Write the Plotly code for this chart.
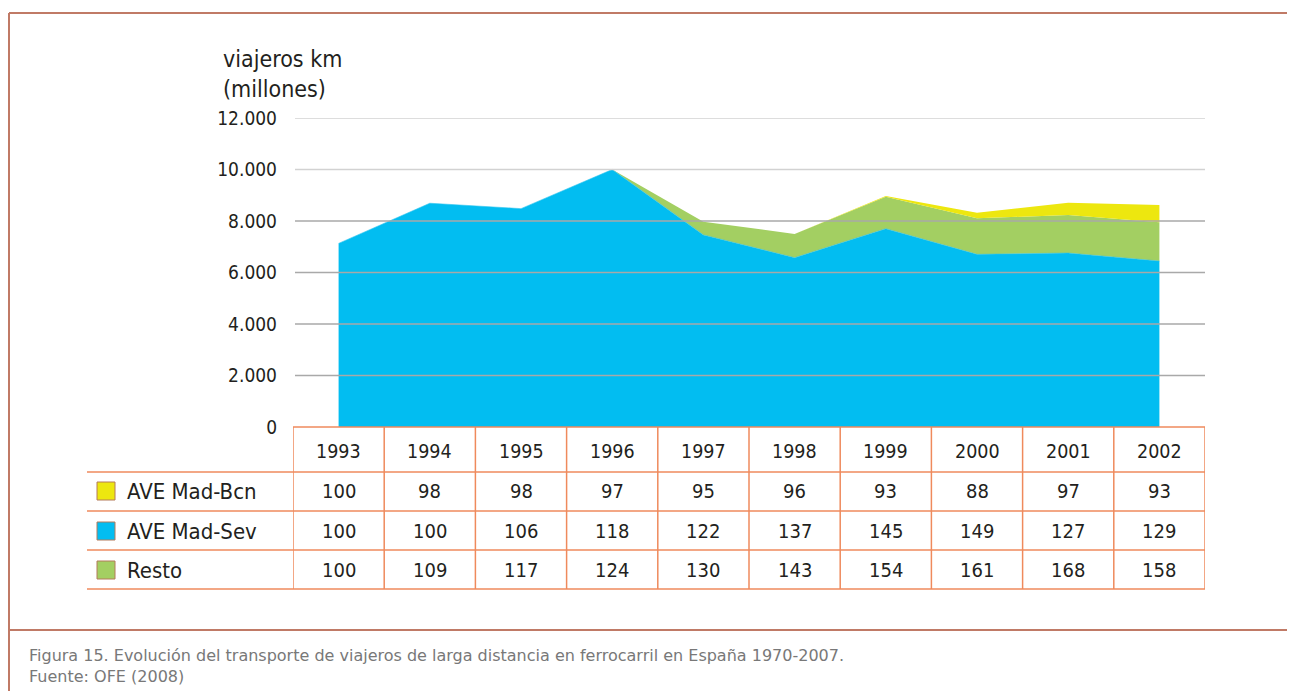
import plotly.graph_objects as go

# ---------------- data ----------------
years = ["1993", "1994", "1995", "1996", "1997", "1998", "1999", "2000", "2001", "2002"]
# stacked area layers (viajeros km, millones)
area_blue = [7130, 8690, 8480, 10000, 7460, 6575, 7700, 6705, 6755, 6445]
area_green = [0, 0, 0, 0, 513, 920, 1244, 1398, 1476, 1503]
area_yellow = [0, 0, 0, 0, 0, 0, 25, 218, 478, 673]

# table (index values)
series_names = ["AVE Mad-Bcn", "AVE Mad-Sev", "Resto"]
idx_bcn = [100, 98, 98, 97, 95, 96, 93, 88, 97, 93]
idx_sev = [100, 100, 106, 118, 122, 137, 145, 149, 127, 129]
idx_resto = [100, 109, 117, 124, 130, 143, 154, 161, 168, 158]

y_tickvals = [0, 2000, 4000, 6000, 8000, 10000, 12000]
y_ticktext = ["0", "2.000", "4.000", "6.000", "8.000", "10.000", "12.000"]

# ---------------- styling ----------------
OFF = 8                      # page body margin
W, H = 1295 - 2 * OFF, 699 - 2 * OFF
BLUE = "#02bdf1"
GREEN = "#a3cf62"
YELLOW = "#ede70f"
TXT = "#231f20"
ORANGE = "#ef8a5c"
FRAME = "#c07a66"
FONT = "Liberation Sans Narrow, DejaVu Sans Condensed, Roboto Condensed, Noto Sans Condensed, Roboto, sans-serif"
CAPFONT = "DejaVu Sans, sans-serif"


def px(x):
    return (x - OFF) / W


def py(y):
    return 1 - (y - OFF) / H


x_idx = list(range(len(years)))

fig = go.Figure()
fig.add_trace(go.Scatter(x=x_idx, y=area_blue, stackgroup="s", mode="lines",
                         line=dict(width=0.6, color="#2cc3ee"), fillcolor=BLUE,
                         name=series_names[1], hoverinfo="skip"))
fig.add_trace(go.Scatter(x=x_idx, y=area_green, stackgroup="s", mode="lines",
                         line=dict(width=0, color=GREEN), fillcolor=GREEN,
                         name=series_names[2], hoverinfo="skip"))
fig.add_trace(go.Scatter(x=x_idx, y=area_yellow, stackgroup="s", mode="lines",
                         line=dict(width=0, color=YELLOW), fillcolor=YELLOW,
                         name=series_names[0], hoverinfo="skip"))

shapes = []
annotations = []

# gridlines above the areas
for v in y_tickvals[1:]:
    col = "#d2d2d2" if v >= 10000 else "#a9a9a9"
    shapes.append(dict(type="line", xref="paper", yref="y", x0=px(295), x1=px(1205),
                       y0=v, y1=v, line=dict(color=col, width=1.5), layer="above"))

# frame lines
shapes.append(dict(type="line", xref="paper", yref="paper", x0=px(9), x1=1, y0=py(13), y1=py(13),
                   line=dict(color=FRAME, width=2)))
shapes.append(dict(type="line", xref="paper", yref="paper", x0=px(9), x1=px(9), y0=py(13), y1=0,
                   line=dict(color=FRAME, width=2)))
shapes.append(dict(type="line", xref="paper", yref="paper", x0=px(9), x1=1, y0=py(630), y1=py(630),
                   line=dict(color=FRAME, width=2)))

# table grid
t_top, row_lines = 427, [472, 511, 550, 589]
shapes.append(dict(type="line", xref="x", yref="paper", x0=-0.5, x1=len(years) - 0.5,
                   y0=py(t_top), y1=py(t_top), line=dict(color=ORANGE, width=1.5)))
for r in row_lines:
    shapes.append(dict(type="line", xref="paper", yref="paper", x0=px(87), x1=px(1205),
                       y0=py(r), y1=py(r), line=dict(color=ORANGE, width=1.5)))
for i in range(len(years) + 1):
    shapes.append(dict(type="line", xref="x", yref="paper", x0=i - 0.5, x1=i - 0.5,
                       y0=py(t_top), y1=py(row_lines[-1]), line=dict(color=ORANGE, width=1.5)))

# header years
for i, yr in enumerate(years):
    annotations.append(dict(x=i, xref="x", y=py(451), yref="paper", text=yr, showarrow=False,
                            xanchor="center", yanchor="middle",
                            font=dict(size=19.5, color=TXT, family=FONT)))

rows = [(series_names[0], YELLOW, idx_bcn, 491),
        (series_names[1], BLUE, idx_sev, 531),
        (series_names[2], GREEN, idx_resto, 570)]
for name, col, vals, yc in rows:
    shapes.append(dict(type="rect", xref="paper", yref="paper", x0=px(97), x1=px(115),
                       y0=py(yc - 9), y1=py(yc + 9), fillcolor=col,
                       line=dict(color="#b47a5a", width=1)))
    annotations.append(dict(x=px(125), xref="paper", y=py(yc), yref="paper", text=name,
                            showarrow=False, xanchor="left", yanchor="middle",
                            font=dict(size=22, color=TXT, family=FONT)))
    for i, v in enumerate(vals):
        annotations.append(dict(x=i, xref="x", y=py(yc), yref="paper", text=str(v),
                                showarrow=False, xanchor="center", yanchor="middle",
                                font=dict(size=20, color=TXT, family=FONT)))

# axis title
annotations.append(dict(x=px(221), xref="paper", y=py(44), yref="paper", xanchor="left",
                        yanchor="top", align="left", showarrow=False,
                        text="viajeros km<br>(millones)",
                        font=dict(size=23, color=TXT, family=FONT)))

# caption
annotations.append(dict(x=px(27), xref="paper", y=py(644), yref="paper", xanchor="left",
                        yanchor="top", align="left", showarrow=False,
                        text="Figura 15. Evolución del transporte de viajeros de larga distancia en ferrocarril en España 1970-2007.<br>Fuente: OFE (2008)",
                        font=dict(size=16, color="#787878", family=CAPFONT)))

fig.update_layout(
    width=W, height=H, autosize=False,
    margin=dict(l=0, r=0, t=0, b=0, pad=0, autoexpand=False),
    paper_bgcolor="white", plot_bgcolor="white",
    showlegend=False,
    shapes=shapes, annotations=annotations,
    xaxis=dict(domain=[px(293), px(1205)], range=[-0.5, len(years) - 0.5],
               showgrid=False, zeroline=False, showticklabels=False, ticks="",
               showline=False, fixedrange=True, automargin=False),
    yaxis=dict(domain=[py(427), py(118)], range=[0, 12000],
               tickvals=y_tickvals, ticktext=y_ticktext,
               showgrid=False, zeroline=False, showline=False, ticks="",
               ticklabelstandoff=15, automargin=False,
               tickfont=dict(size=19, color=TXT, family=FONT), fixedrange=True),
)

fig.write_html("out.html")
